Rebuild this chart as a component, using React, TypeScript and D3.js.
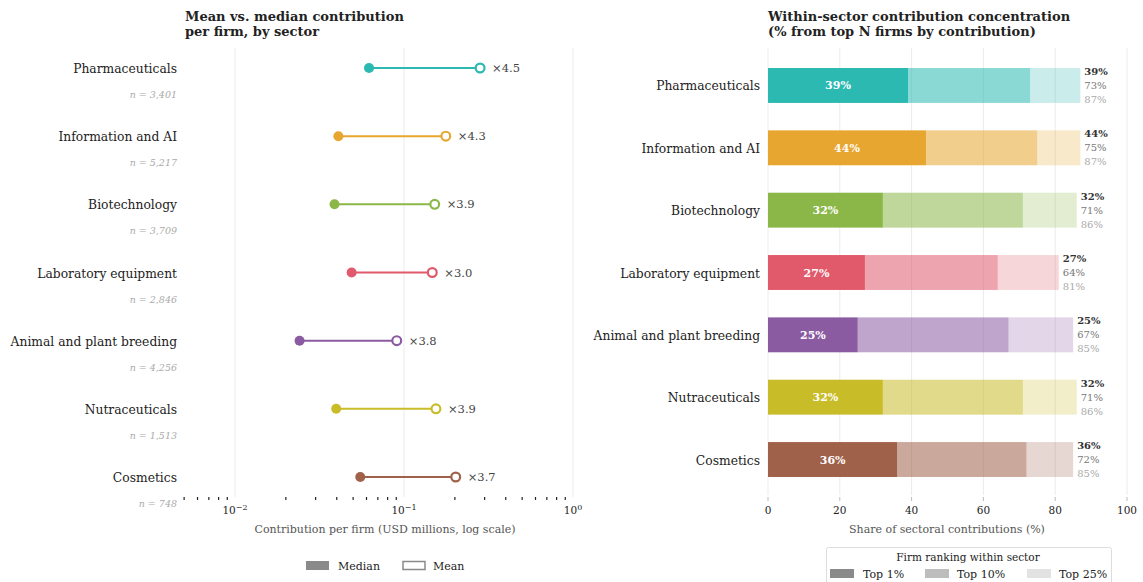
import React from "react";
import * as d3 from "d3";

// Sector order, colours and firm counts
const sectors = [
  "Pharmaceuticals",
  "Information and AI",
  "Biotechnology",
  "Laboratory equipment",
  "Animal and plant breeding",
  "Nutraceuticals",
  "Cosmetics",
];
const sectorColors = ["#2cb9b2", "#e7a62f", "#8bb749", "#e05a6c", "#8b5ba2", "#c9bc29", "#a0614a"];
const firmCounts = [3401, 5217, 3709, 2846, 4256, 1513, 748];

// Contribution per firm, USD millions
const medianValues = [0.0621, 0.0409, 0.0388, 0.049, 0.0241, 0.0397, 0.0551];
const meanValues = [0.282, 0.1767, 0.152, 0.147, 0.0906, 0.1545, 0.2023];

// Share of sectoral contributions from top N% of firms
const top1Share = [39, 44, 32, 27, 25, 32, 36];
const top10Share = [73, 75, 71, 64, 67, 71, 72];
const top25Share = [87, 87, 86, 81, 85, 86, 85];

const logTickValues = [0.01, 0.1, 1];
const shareTicks = [0, 20, 40, 60, 80, 100];

const FONT = "'DejaVu Serif', serif";
const GRID = "#ebebeb";
const LABEL_SIZE = 12.3;

const W = 1143;
const H = 582;

function supPow(v: number) {
  const e = Math.round(Math.log10(v));
  const sup: Record<string, string> = { "-": "\u2212" };
  return { base: "10", exp: String(e).split("").map((c) => sup[c] ?? c).join("") };
}

function LeftPanel() {
  const x = d3.scaleLog().domain([0.00506, 1]).range([185, 573]);
  const y = d3.scalePoint<string>().domain(sectors).range([68, 477]);
  const minor: number[] = [];
  for (let e = -3; e <= -1; e++) {
    for (let m = 2; m <= 9; m++) {
      const v = m * Math.pow(10, e);
      if (v >= 0.005 && v < 1) minor.push(v);
    }
  }
  return (
    <g>
      <text x={185} y={21} fontFamily={FONT} fontSize={13} fontWeight="bold" fill="#222">
        Mean vs. median contribution
      </text>
      <text x={185} y={36} fontFamily={FONT} fontSize={13} fontWeight="bold" fill="#222">
        per firm, by sector
      </text>
      {logTickValues.map((t) => (
        <line key={t} x1={x(t)} x2={x(t)} y1={48} y2={497} stroke={GRID} strokeWidth={1} />
      ))}
      {minor.map((t) => (
        <line key={t} x1={x(t)} x2={x(t)} y1={497} y2={500} stroke="#222" strokeWidth={1.2} />
      ))}
      {logTickValues.map((t) => {
        const p = supPow(t);
        return (
          <text key={t} x={x(t)} y={514} textAnchor="middle" fontFamily={FONT} fontSize={10.5} fill="#222">
            {p.base}
            <tspan dy={-4} fontSize={8}>{p.exp}</tspan>
          </text>
        );
      })}
      <text x={385} y={533} textAnchor="middle" fontFamily={FONT} fontSize={11} fill="#555">
        Contribution per firm (USD millions, log scale)
      </text>
      {sectors.map((s, i) => {
        const cy = y(s)!;
        const c = sectorColors[i];
        const ratio = meanValues[i] / medianValues[i];
        return (
          <g key={s}>
            <text x={177} y={cy + 5} textAnchor="end" fontFamily={FONT} fontSize={LABEL_SIZE} fill="#222">
              {s}
            </text>
            <text x={177} y={cy + 30} textAnchor="end" fontFamily={FONT} fontSize={9.5} fontStyle="italic" fill="#aaa">
              n = {d3.format(",")(firmCounts[i])}
            </text>
            <line x1={x(medianValues[i])} x2={x(meanValues[i])} y1={cy} y2={cy} stroke={c} strokeWidth={2} />
            <circle cx={x(medianValues[i])} cy={cy} r={5} fill={c} />
            <circle cx={x(meanValues[i])} cy={cy} r={4.4} fill="#fff" stroke={c} strokeWidth={2.2} />
            <text x={x(meanValues[i]) + 12} y={cy + 4} fontFamily={FONT} fontSize={11.5} fill="#444">
              ×{ratio.toFixed(1)}
            </text>
          </g>
        );
      })}
      {/* legend */}
      <rect x={306} y={561} width={23} height={9} fill="#8a8a8a" />
      <text x={338} y={570} fontFamily={FONT} fontSize={11} fill="#222">Median</text>
      <rect x={403} y={561.5} width={22} height={8} fill="#fff" stroke="#8a8a8a" strokeWidth={1.5} />
      <text x={433} y={570} fontFamily={FONT} fontSize={11} fill="#222">Mean</text>
    </g>
  );
}

function RightPanel() {
  const x = d3.scaleLinear().domain([0, 100]).range([768, 1127]);
  const y = d3.scaleBand<string>().domain(sectors).range([54.3, 490.7]).paddingInner(0.44).paddingOuter(0.22);
  const bh = y.bandwidth();
  return (
    <g>
      <text x={768} y={21} fontFamily={FONT} fontSize={13} fontWeight="bold" fill="#222">
        Within-sector contribution concentration
      </text>
      <text x={768} y={36} fontFamily={FONT} fontSize={13} fontWeight="bold" fill="#222">
        (% from top N firms by contribution)
      </text>
      {shareTicks.map((t) => (
        <g key={t}>
          <line x1={x(t)} x2={x(t)} y1={48} y2={495} stroke={GRID} strokeWidth={1} />
          <line x1={x(t)} x2={x(t)} y1={497} y2={501} stroke="#bbb" strokeWidth={1} />
          <text x={x(t)} y={514} textAnchor="middle" fontFamily={FONT} fontSize={10.5} fill="#222">
            {t}
          </text>
        </g>
      ))}
      <text x={947} y={533} textAnchor="middle" fontFamily={FONT} fontSize={11} fill="#555">
        Share of sectoral contributions (%)
      </text>
      {sectors.map((s, i) => {
        const top = y(s)!;
        const cy = top + bh / 2;
        const c = sectorColors[i];
        const endX = x(top25Share[i]);
        return (
          <g key={s}>
            <text x={760} y={cy + 5} textAnchor="end" fontFamily={FONT} fontSize={LABEL_SIZE} fill="#222">
              {s}
            </text>
            <rect x={x(top10Share[i])} y={top} width={x(top25Share[i]) - x(top10Share[i])} height={bh} fill={c} fillOpacity={0.25} />
            <rect x={x(top1Share[i])} y={top} width={x(top10Share[i]) - x(top1Share[i])} height={bh} fill={c} fillOpacity={0.55} />
            <rect x={x(0)} y={top} width={x(top1Share[i]) - x(0)} height={bh} fill={c} />
            <text x={(x(0) + x(top1Share[i])) / 2} y={cy + 4} textAnchor="middle" fontFamily={FONT} fontSize={11} fontWeight="bold" fill="#fff">
              {top1Share[i]}%
            </text>
            <text x={endX + 4} y={top + 7} fontFamily={FONT} fontSize={10} fontWeight="bold" fill="#333">
              {top1Share[i]}%
            </text>
            <text x={endX + 4} y={top + 21} fontFamily={FONT} fontSize={10} fill="#777">
              {top10Share[i]}%
            </text>
            <text x={endX + 4} y={top + 35} fontFamily={FONT} fontSize={10} fill="#aaa">
              {top25Share[i]}%
            </text>
          </g>
        );
      })}
      {/* legend */}
      <rect x={826.5} y={547.5} width={285} height={40} rx={2} fill="#fff" stroke="#ddd" strokeWidth={1} />
      <text x={968} y={561} textAnchor="middle" fontFamily={FONT} fontSize={10.5} fill="#222">
        Firm ranking within sector
      </text>
      <rect x={830} y={569} width={24} height={9} fill="#8a8a8a" />
      <text x={863} y={578} fontFamily={FONT} fontSize={11} fill="#222">Top 1%</text>
      <rect x={925} y={569} width={24} height={9} fill="#bdbdbd" />
      <text x={957} y={578} fontFamily={FONT} fontSize={11} fill="#222">Top 10%</text>
      <rect x={1027} y={569} width={24} height={9} fill="#e2e2e2" />
      <text x={1059} y={578} fontFamily={FONT} fontSize={11} fill="#222">Top 25%</text>
    </g>
  );
}

export default function App() {
  return (
    <svg width={W} height={H} style={{ position: "absolute", left: 0, top: 0, background: "#fff" }}>
      <rect x={0} y={0} width={W} height={H} fill="#fff" />
      <LeftPanel />
      <RightPanel />
    </svg>
  );
}
